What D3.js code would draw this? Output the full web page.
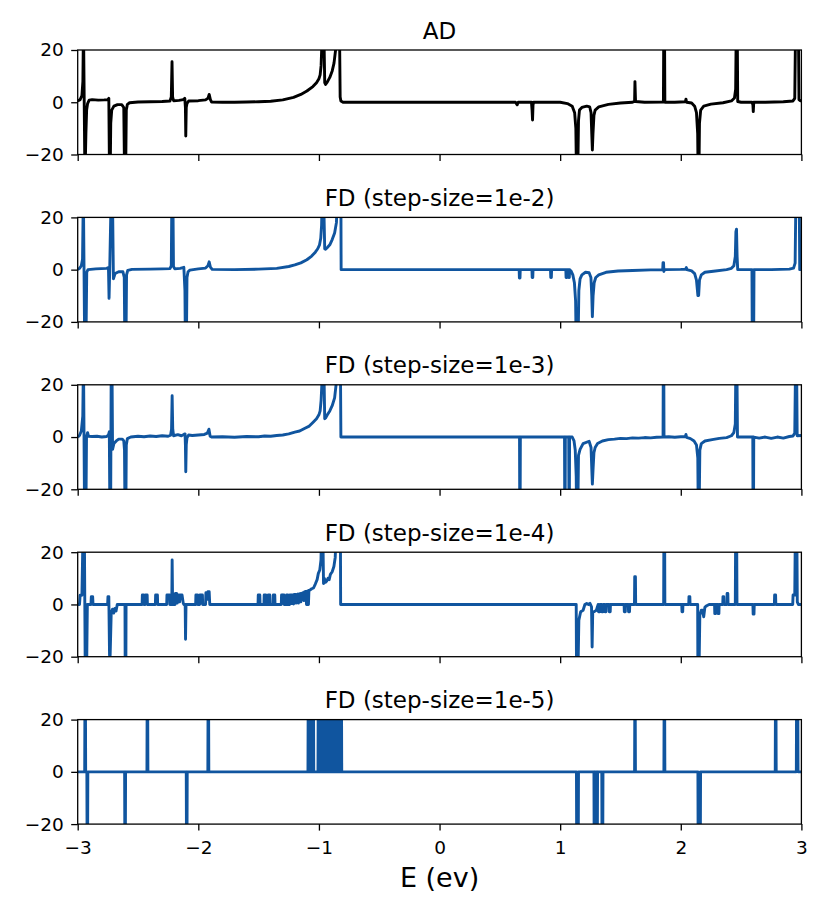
<!DOCTYPE html>
<html>
<head>
<meta charset="utf-8">
<script src="https://cdn.jsdelivr.net/npm/d3@7"></script>
<style>
body { margin: 0; background: #fff; }
svg text { font-family: "DejaVu Sans", sans-serif; fill: #000; }
</style>
</head>
<body>
<svg width="830" height="915"></svg>
<script>
"use strict";
const titles = ["AD", "FD (step-size=1e-2)", "FD (step-size=1e-3)", "FD (step-size=1e-4)", "FD (step-size=1e-5)"];
const xTicks = [-3, -2, -1, 0, 1, 2, 3];
const yTicks = [-20, 0, 20];
const xLabel = "E (ev)";

// [E, value] pairs; +/-30 means off the axis
const ad = [
  [-3.00, 0.5], [-2.98, 1.0], [-2.965, 2.5], [-2.957, 8], [-2.952, 30], [-2.940, -30], [-2.932, -12], [-2.926, -3],
  [-2.918, -0.5], [-2.905, 0.8], [-2.88, 1.0], [-2.83, 0.8], [-2.78, 0.9], [-2.75, 1.0], [-2.742, 1.5], [-2.736, -30],
  [-2.731, -30], [-2.726, -8], [-2.718, -3], [-2.70, -1.5], [-2.67, -0.9], [-2.635, -0.9], [-2.618, -2], [-2.611, -30],
  [-2.603, -30], [-2.597, -3], [-2.588, -0.8], [-2.57, -0.2], [-2.50, 0.1], [-2.40, 0.2], [-2.30, 0.3], [-2.235, 0.5],
  [-2.224, 2], [-2.218, 15.5], [-2.213, 2], [-2.205, 0.6], [-2.16, 0.7], [-2.125, 1.0], [-2.112, 1.5], [-2.107, -2],
  [-2.104, -12.9], [-2.100, -2], [-2.094, -0.5], [-2.08, 0.5], [-2.00, 0.6], [-1.94, 0.9], [-1.92, 1.5], [-1.91, 3.0],
  [-1.90, 1.0], [-1.89, 0.1], [-1.80, 0], [-1.70, 0], [-1.60, 0.1], [-1.50, 0.2], [-1.40, 0.4], [-1.30, 0.9],
  [-1.21, 1.9], [-1.15, 3.0], [-1.10, 4.3], [-1.05, 6.0], [-1.02, 7.5], [-1.00, 9.0], [-0.99, 10.5], [-0.982, 14],
  [-0.976, 22], [-0.970, 30], [-0.960, 30], [-0.952, 7.5], [-0.945, 6.8], [-0.93, 7.8], [-0.91, 9.5], [-0.89, 12],
  [-0.875, 15], [-0.862, 20], [-0.855, 30], [-0.830, 30], [-0.824, 2], [-0.818, 0.5], [-0.80, 0], [0.63, 0],
  [0.643, -1], [0.652, 0], [0.762, 0], [0.767, -3], [0.771, -6.8], [0.775, -1], [0.78, 0], [1.00, 0],
  [1.06, -0.5], [1.10, -1.5], [1.12, -4], [1.13, -10], [1.136, -30], [1.145, -30], [1.152, -7], [1.16, -3],
  [1.18, -2], [1.22, -1.5], [1.245, -1.8], [1.256, -4], [1.262, -12], [1.267, -18.3], [1.272, -12], [1.28, -5],
  [1.29, -3], [1.32, -1.8], [1.40, -0.8], [1.50, -0.3], [1.60, 0], [1.617, 0.3], [1.620, 7.9], [1.625, 0.3],
  [1.70, 0], [1.856, 0.1], [1.859, 30], [1.865, 30], [1.868, 0], [1.95, 0], [2.038, 0.2], [2.043, 1.2],
  [2.048, 0], [2.09, -0.3], [2.115, -1.5], [2.13, -4], [2.14, -12], [2.144, -30], [2.150, -30], [2.155, -8],
  [2.165, -3], [2.19, -1.5], [2.25, -0.7], [2.35, -0.2], [2.42, 0.5], [2.445, 1.6], [2.455, 5], [2.46, 30],
  [2.468, 30], [2.472, 0.3], [2.50, 0], [2.59, 0], [2.598, -1], [2.601, -3.6], [2.605, 0], [2.70, 0],
  [2.85, 0.2], [2.93, 0.5], [2.945, 1.5], [2.952, 30], [2.975, 30], [2.980, 1], [2.99, 0.6], [3.00, 0.6]
];

const fd2 = [
  [-3.00, 0], [-2.985, 0.5], [-2.97, 1.5], [-2.96, 4], [-2.953, 30], [-2.942, -30], [-2.932, -30], [-2.925, -1],
  [-2.915, 0], [-2.85, 0.3], [-2.76, 0.5], [-2.745, 0.8], [-2.740, -11], [-2.735, -1], [-2.722, 30], [-2.712, 30],
  [-2.704, -3.5], [-2.69, -1.5], [-2.66, -0.8], [-2.625, -0.8], [-2.614, -3], [-2.609, -30], [-2.600, -30], [-2.595, -2],
  [-2.585, -0.3], [-2.55, 0.1], [-2.40, 0.2], [-2.30, 0.3], [-2.235, 0.4], [-2.224, 1.5], [-2.219, 30], [-2.211, 30],
  [-2.206, 1.2], [-2.195, 0.3], [-2.15, 0.5], [-2.12, 0.9], [-2.111, -8], [-2.107, -30], [-2.099, -30], [-2.094, -3],
  [-2.085, -0.8], [-2.07, -0.2], [-2.00, 0.3], [-1.94, 0.6], [-1.92, 1.5], [-1.91, 3], [-1.90, 1], [-1.885, 0.1],
  [-1.70, 0], [-1.50, 0.2], [-1.35, 0.5], [-1.25, 1.2], [-1.20, 1.8], [-1.15, 2.6], [-1.10, 3.8], [-1.06, 5.2],
  [-1.03, 6.7], [-1.01, 8.0], [-0.995, 9.5], [-0.985, 12], [-0.978, 17], [-0.972, 30], [-0.962, 30], [-0.952, 8],
  [-0.945, 7.8], [-0.93, 8.5], [-0.91, 9.5], [-0.89, 11.5], [-0.87, 14], [-0.855, 18], [-0.845, 30], [-0.818, 30],
  [-0.816, 0], [0.660, 0], [0.662, -3.2], [0.667, -3.2], [0.669, 0], [0.766, 0], [0.768, -3], [0.773, -3],
  [0.775, 0], [0.920, 0], [0.922, -3], [0.927, -3], [0.929, 0], [1.047, 0], [1.049, -3], [1.054, -3],
  [1.056, 0], [1.069, 0], [1.071, -3], [1.076, -3], [1.078, 0], [1.09, -0.5], [1.105, -2], [1.118, -5],
  [1.128, -12], [1.133, -30], [1.148, -30], [1.155, -8], [1.165, -3.5], [1.18, -2], [1.21, -1], [1.24, -1.2],
  [1.255, -3], [1.262, -10], [1.267, -18], [1.273, -10], [1.282, -5], [1.295, -3], [1.32, -2], [1.38, -1],
  [1.48, -0.5], [1.60, -0.3], [1.75, -0.1], [1.85, 0], [1.853, 2.7], [1.857, 2.7], [1.860, -0.7], [1.864, 0],
  [2.00, 0.1], [2.04, 0.2], [2.046, 0.8], [2.05, 0], [2.09, -0.5], [2.115, -1.5], [2.13, -4], [2.142, -9.9],
  [2.148, -9.9], [2.155, -4], [2.17, -2], [2.20, -1], [2.27, -0.6], [2.38, 0], [2.42, 0.5], [2.44, 1.5],
  [2.452, 5], [2.457, 14.5], [2.462, 15.5], [2.467, 5], [2.472, 0], [2.590, 0], [2.593, -30], [2.604, -30],
  [2.607, 0], [2.75, 0], [2.90, 0.2], [2.935, 0.6], [2.948, 2.5], [2.955, 30], [2.982, 30], [2.986, 0],
  [3.00, 0]
];

const fd3 = [
  [-3.00, 0], [-2.985, 0.6], [-2.97, 2.3], [-2.958, 8], [-2.952, 30], [-2.943, -30], [-2.932, -30], [-2.927, 0],
  [-2.918, 1.7], [-2.91, 0.3], [-2.88, 0.2], [-2.84, 0.3], [-2.80, 0], [-2.76, 0.2], [-2.745, 0.8], [-2.738, 2],
  [-2.733, -30], [-2.727, -30], [-2.722, 30], [-2.716, 30], [-2.711, -4.7], [-2.70, -2.5], [-2.68, -1.5], [-2.66, -0.8],
  [-2.63, -0.8], [-2.618, -1.5], [-2.612, -5], [-2.608, -30], [-2.601, -30], [-2.597, -3], [-2.588, -0.6], [-2.56, 0],
  [-2.50, 0.3], [-2.45, 0.1], [-2.40, 0.4], [-2.35, 0.2], [-2.30, 0.5], [-2.25, 0.3], [-2.23, 0.7], [-2.222, 3],
  [-2.217, 15.8], [-2.212, 3], [-2.205, 0.5], [-2.17, 0.9], [-2.14, 0.5], [-2.12, 1.0], [-2.11, 1.2], [-2.107, -3],
  [-2.104, -13.3], [-2.100, -3], [-2.094, -0.3], [-2.08, 0.8], [-2.05, 0.6], [-2.00, 0.8], [-1.95, 1.0], [-1.925, 1.5],
  [-1.912, 3], [-1.902, 0.3], [-1.89, 0], [-1.80, 0.1], [-1.70, -0.1], [-1.60, 0.2], [-1.50, 0.1], [-1.45, 0.4],
  [-1.40, 0.3], [-1.35, 0.6], [-1.30, 0.8], [-1.25, 1.2], [-1.20, 1.9], [-1.16, 2.3], [-1.12, 3.3], [-1.08, 4.2],
  [-1.05, 5.6], [-1.02, 7.0], [-1.00, 8.5], [-0.99, 10], [-0.982, 14], [-0.976, 20], [-0.970, 30], [-0.960, 30],
  [-0.952, 7], [-0.945, 7.3], [-0.93, 8.5], [-0.91, 10], [-0.89, 12], [-0.87, 15], [-0.858, 20], [-0.852, 30],
  [-0.822, 30], [-0.818, 0], [0.663, 0], [0.665, -30], [0.668, -30], [0.670, 0], [1.036, 0], [1.038, -30],
  [1.041, -30], [1.043, 0], [1.071, 0], [1.073, -30], [1.076, -30], [1.078, 0], [1.10, 0], [1.115, -1.5],
  [1.125, -5], [1.133, -15], [1.136, -30], [1.146, -30], [1.152, -7], [1.165, -4.7], [1.19, -2.5], [1.24, -1.6],
  [1.256, -4], [1.262, -12], [1.267, -18], [1.273, -12], [1.28, -6], [1.29, -4], [1.31, -2.5], [1.35, -1.5],
  [1.40, -1], [1.45, -0.8], [1.50, -0.5], [1.55, -0.6], [1.60, -0.3], [1.65, -0.4], [1.70, -0.2], [1.75, -0.3],
  [1.80, -0.1], [1.853, 0], [1.855, 30], [1.859, 30], [1.861, 0], [1.90, 0.1], [1.95, -0.1], [2.00, 0.1],
  [2.038, 0.2], [2.043, 1.0], [2.048, -0.1], [2.08, -0.6], [2.11, -1.5], [2.13, -3], [2.141, -8], [2.145, -30],
  [2.152, -30], [2.158, -5], [2.17, -2.5], [2.20, -1.5], [2.26, -1], [2.32, -0.5], [2.38, -0.2], [2.42, 0.5],
  [2.44, 1.7], [2.452, 5], [2.457, 30], [2.465, 30], [2.47, 0], [2.55, 0], [2.597, 0], [2.599, -30],
  [2.603, -30], [2.605, 0], [2.65, -0.4], [2.70, 0], [2.75, -0.5], [2.80, 0], [2.85, -0.4], [2.90, 0.2],
  [2.93, 0.4], [2.945, 1.5], [2.952, 30], [2.960, 30], [2.965, 0.5], [3.00, 0.6]
];

const fd4 = [
  [-3.00, 0], [-2.985, 0], [-2.98, 3.5], [-2.965, 3.5], [-2.955, 30], [-2.945, 30], [-2.937, -30], [-2.927, -30],
  [-2.92, 0], [-2.89, 0], [-2.887, 3], [-2.876, 3], [-2.873, 0], [-2.752, 0], [-2.749, 3], [-2.742, 3],
  [-2.736, -19.5], [-2.731, -19.5], [-2.722, -3], [-2.712, -1.8], [-2.702, -3.3], [-2.692, -1.5], [-2.682, -2.5], [-2.672, 0],
  [-2.608, 0], [-2.606, -30], [-2.601, -30], [-2.599, 0], [-2.466, 0], [-2.464, 3.6], [-2.453, 3.6], [-2.451, 0],
  [-2.44, 0], [-2.438, 3.6], [-2.424, 3.6], [-2.422, 0], [-2.356, 0], [-2.354, 3.6], [-2.339, 3.6], [-2.337, 0],
  [-2.262, 0], [-2.26, 3.6], [-2.238, 3.6], [-2.236, 0], [-2.220, 0], [-2.217, 17], [-2.213, 0], [-2.193, 0],
  [-2.19, 4.2], [-2.18, 4.2], [-2.175, 0.5], [-2.17, 3.6], [-2.16, 3.6], [-2.155, 1], [-2.15, 3.6], [-2.135, 3.6],
  [-2.125, 0.5], [-2.12, 0], [-2.109, 0], [-2.106, -13.3], [-2.102, 0], [-2.022, 0], [-2.02, 3.6], [-2.007, 3.6],
  [-2.005, 0], [-1.989, 0], [-1.987, 3.6], [-1.982, 3.6], [-1.979, 0.5], [-1.975, 3.6], [-1.966, 3.6], [-1.964, 0],
  [-1.94, 0], [-1.937, 4.5], [-1.93, 4.5], [-1.925, 2], [-1.92, 4.9], [-1.91, 4.9], [-1.905, 0], [-1.505, 0],
  [-1.503, 3.6], [-1.49, 3.6], [-1.488, 0], [-1.456, 0], [-1.454, 3.6], [-1.441, 3.6], [-1.439, 0], [-1.422, 0],
  [-1.42, 3.6], [-1.407, 3.6], [-1.405, 0], [-1.38, 0], [-1.378, 3.6], [-1.366, 3.6], [-1.364, 0], [-1.312, 0],
  [-1.31, 3.6], [-1.303, 3.6], [-1.3, 0.5], [-1.297, 3.6], [-1.29, 3.6], [-1.288, 0], [-1.27, 0], [-1.268, 3.6],
  [-1.258, 3.6], [-1.255, 0], [-1.243, 0], [-1.241, 3.6], [-1.23, 3.6], [-1.227, 0.3], [-1.222, 3.6], [-1.212, 3.6],
  [-1.21, 0.2], [-1.205, 3.8], [-1.195, 3.8], [-1.19, 0.5], [-1.185, 3.8], [-1.175, 4.0], [-1.17, 0.5], [-1.165, 4.0],
  [-1.155, 4.2], [-1.15, 1], [-1.145, 4.2], [-1.13, 4.5], [-1.125, 1.5], [-1.12, 4.8], [-1.108, 5], [-1.103, 0],
  [-1.098, 5], [-1.09, 5.2], [-1.087, 0], [-1.083, 5.3], [-1.075, 5.5], [-1.06, 6], [-1.045, 6.3], [-1.03, 7.8],
  [-1.015, 9.5], [-1.005, 11.9], [-0.993, 13.2], [-0.983, 17], [-0.978, 30], [-0.968, 30], [-0.962, 8], [-0.955, 10],
  [-0.945, 8.5], [-0.935, 9], [-0.925, 10], [-0.915, 9.5], [-0.905, 11.5], [-0.89, 12.5], [-0.876, 14.5], [-0.865, 18],
  [-0.855, 30], [-0.822, 30], [-0.82, 0], [1.133, 0], [1.136, -30], [1.146, -30], [1.155, -6], [1.17, -2.8],
  [1.19, -2.2], [1.205, 0], [1.22, 0.4], [1.235, 0], [1.247, 0.4], [1.26, -0.9], [1.265, -16.3], [1.27, -3],
  [1.28, -2.8], [1.30, -2.2], [1.315, 0], [1.318, -2.8], [1.328, -2.8], [1.33, 0], [1.343, 0], [1.345, -2.8],
  [1.355, -2.8], [1.357, 0], [1.37, 0], [1.372, -2.8], [1.38, -2.8], [1.382, 0], [1.405, 0], [1.407, -2.8],
  [1.415, -2.8], [1.417, 0], [1.53, 0], [1.532, -2.8], [1.54, -2.8], [1.542, 0], [1.565, 0], [1.567, -2.8],
  [1.575, -2.8], [1.577, 0], [1.616, 0], [1.618, 10.6], [1.624, 10.6], [1.626, 0], [1.858, 0], [1.86, 30],
  [1.866, 30], [1.868, 0], [2.008, 0], [2.01, -2.8], [2.016, -2.8], [2.018, 0], [2.066, 0], [2.068, 3],
  [2.075, 3], [2.077, 0], [2.140, 0], [2.142, -30], [2.150, -30], [2.158, -4.1], [2.17, -2.2], [2.18, -2.2],
  [2.19, -4.7], [2.20, -1], [2.215, -0.5], [2.235, 0], [2.28, 0], [2.282, -3.5], [2.288, -3.5], [2.29, 0],
  [2.308, 0], [2.31, -3.5], [2.316, -3.5], [2.318, 0], [2.348, 0], [2.35, 3], [2.356, 3], [2.358, 0],
  [2.382, 0], [2.384, 4.2], [2.39, 4.2], [2.392, 0], [2.452, 0], [2.455, 30], [2.463, 30], [2.466, 0],
  [2.598, 0], [2.60, -3.7], [2.607, -3.7], [2.609, 0], [2.776, 0], [2.778, 3.6], [2.786, 3.6], [2.788, 0],
  [2.928, 0], [2.931, 3.6], [2.945, 3.6], [2.95, 30], [2.962, 30], [2.966, 1], [2.975, 0], [3.00, 0]
];

const fd5 = [
  [-3.00, 0], [-2.942, 0], [-2.940, 30], [-2.936, 30], [-2.934, 0], [-2.924, 0], [-2.922, -30], [-2.918, -30],
  [-2.916, 0], [-2.611, 0], [-2.609, -30], [-2.605, -30], [-2.603, 0], [-2.426, 0], [-2.424, 30], [-2.420, 30],
  [-2.418, 0], [-2.100, 0], [-2.098, -30], [-2.094, -30], [-2.092, 0], [-1.921, 0], [-1.919, 30], [-1.915, 30],
  [-1.913, 0], [-1.091, 0], [-1.089, 30], [-1.086, 30], [-1.084, 0], [-1.064, 0], [-1.062, 30], [-1.059, 30],
  [-1.057, 0], [-1.050, 0], [-1.048, 30], [-1.045, 30], [-1.043, 0],
  [-1.008, 0], [-1.006, 30], [-1.004, 30], [-1.002, 0], [-0.996, 0], [-0.994, 30], [-0.992, 30], [-0.990, 0],
  [-0.985, 0], [-0.983, 30], [-0.981, 30], [-0.979, 0], [-0.973, 0], [-0.971, 30], [-0.969, 30], [-0.967, 0],
  [-0.961, 0], [-0.959, 30], [-0.957, 30], [-0.955, 0], [-0.949, 0], [-0.947, 30], [-0.945, 30], [-0.943, 0],
  [-0.937, 0], [-0.935, 30], [-0.933, 30], [-0.931, 0], [-0.925, 0], [-0.923, 30], [-0.921, 30], [-0.919, 0],
  [-0.913, 0], [-0.911, 30], [-0.909, 30], [-0.907, 0], [-0.901, 0], [-0.899, 30], [-0.897, 30], [-0.895, 0],
  [-0.889, 0], [-0.887, 30], [-0.885, 30], [-0.883, 0], [-0.877, 0], [-0.875, 30], [-0.873, 30], [-0.871, 0],
  [-0.865, 0], [-0.863, 30], [-0.861, 30], [-0.859, 0], [-0.853, 0], [-0.851, 30], [-0.849, 30], [-0.847, 0],
  [-0.841, 0], [-0.839, 30], [-0.837, 30], [-0.835, 0], [-0.829, 0], [-0.827, 30], [-0.825, 30], [-0.823, 0],
  [-0.817, 0], [-0.815, 30], [-0.813, 30], [-0.811, 0],
  [1.135, 0], [1.137, -30], [1.150, -30], [1.152, 0], [1.280, 0], [1.282, -30], [1.285, -30], [1.287, 0],
  [1.303, 0], [1.305, -30], [1.308, -30], [1.310, 0], [1.345, 0], [1.347, -30], [1.353, -30], [1.355, 0],
  [1.617, 0], [1.619, 30], [1.622, 30], [1.624, 0], [1.860, 0], [1.862, 30], [1.866, 30], [1.868, 0],
  [2.142, 0], [2.144, -30], [2.162, -30], [2.164, 0], [2.783, 0], [2.785, 30], [2.789, 30], [2.791, 0],
  [2.958, 0], [2.960, 30], [2.970, 30], [2.972, 0], [3.00, 0]
];

const series = [ad, fd2, fd3, fd4, fd5];
const lineColors = ["#000000", "#10559f", "#10559f", "#10559f", "#10559f"];

const svg = d3.select("svg");
const left = 77.7, right = 801.4;
const firstTop = 50, panelH = 104.5, step = 167.4;
const tickFont = "18.5px";

const x = d3.scaleLinear().domain([-3, 3]).range([left, right]);

series.forEach((data, i) => {
  const top = firstTop + i * step;
  const y = d3.scaleLinear().domain([-20, 20]).range([top + panelH, top]);
  const g = svg.append("g").attr("class", "panel");

  g.append("clipPath")
    .attr("id", `clip${i}`)
    .append("rect")
    .attr("x", left)
    .attr("y", top)
    .attr("width", right - left)
    .attr("height", panelH);

  const line = d3.line()
    .x(d => x(d[0]))
    .y(d => y(d[1]));

  g.append("path")
    .datum(data)
    .attr("clip-path", `url(#clip${i})`)
    .attr("fill", "none")
    .attr("stroke", lineColors[i])
    .attr("stroke-width", 2.9)
    .attr("stroke-linejoin", "round")
    .attr("d", line);

  // y axis
  const yAxis = g.append("g")
    .attr("transform", `translate(${left},0)`)
    .call(d3.axisLeft(y).tickValues(yTicks).tickFormat(d3.format("d")).tickSize(6.5).tickPadding(7.5));
  // x axis, labels only on the last panel
  const xAxis = g.append("g")
    .attr("transform", `translate(0,${top + panelH})`)
    .call(d3.axisBottom(x).tickValues(xTicks).tickFormat(d3.format("d")).tickSize(6.5).tickPadding(10.5));
  if (i < series.length - 1) {
    xAxis.selectAll("text").remove();
  }
  [yAxis, xAxis].forEach(a => {
    a.select(".domain").remove();
    a.selectAll("line").attr("stroke", "#000").attr("stroke-width", 1.3);
    a.selectAll("text").style("font-size", tickFont).attr("fill", "#000");
  });

  // frame
  g.append("rect")
    .attr("x", left)
    .attr("y", top)
    .attr("width", right - left)
    .attr("height", panelH)
    .attr("fill", "none")
    .attr("stroke", "#000")
    .attr("stroke-width", 1.3);

  g.append("text")
    .attr("x", (left + right) / 2)
    .attr("y", top - 11.5)
    .attr("text-anchor", "middle")
    .style("font-size", "23px")
    .text(titles[i]);
});

svg.append("text")
  .attr("x", (left + right) / 2)
  .attr("y", 887)
  .attr("text-anchor", "middle")
  .style("font-size", "27px")
  .text(xLabel);
</script>
</body>
</html>
